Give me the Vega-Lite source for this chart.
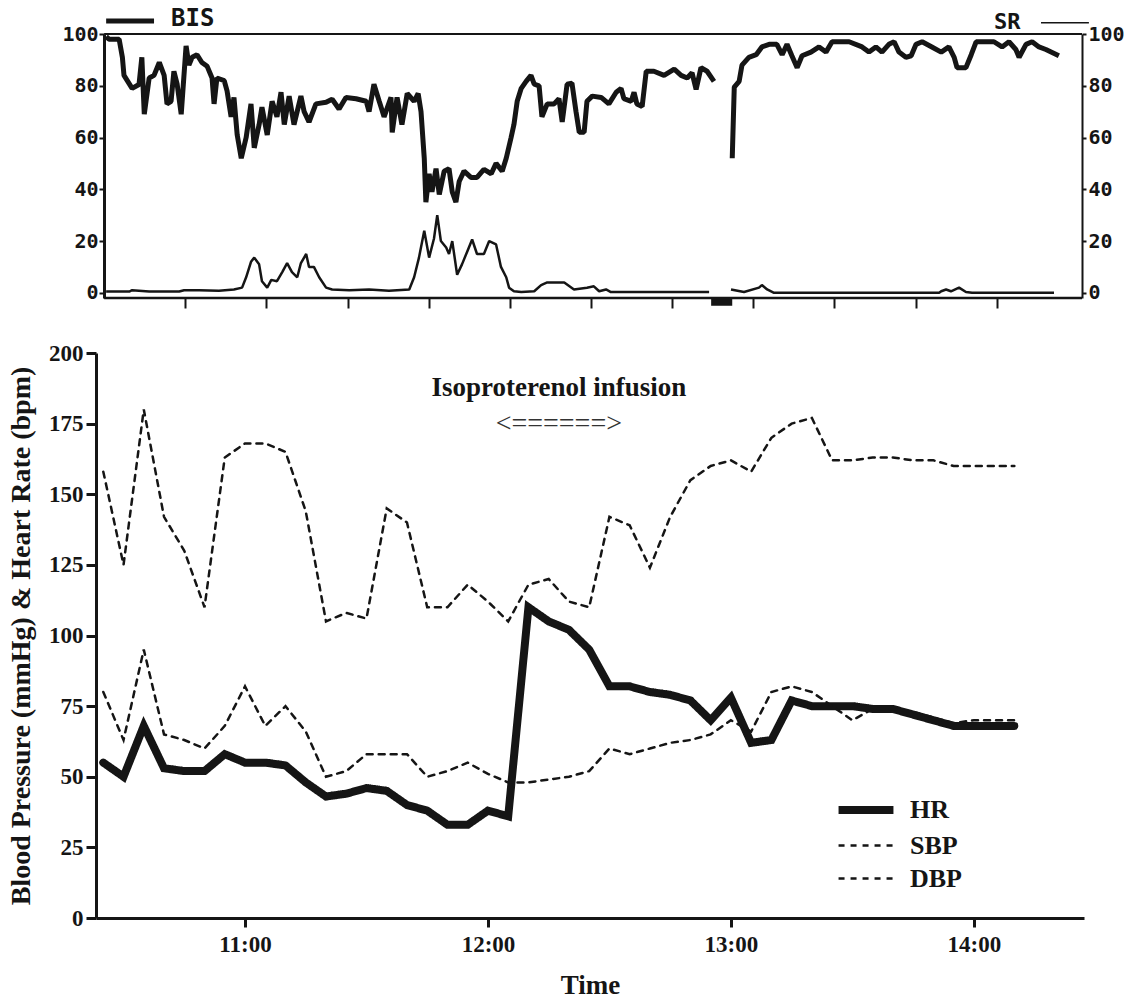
{
  "$schema": "https://vega.github.io/schema/vega-lite/v6.json",
  "background": "white",
  "padding": {"left": 7, "top": 6, "right": 0, "bottom": 0},
  "autosize": {"type": "pad"},
  "spacing": 33,
  "config": {"view": {"stroke": null}, "axis": {"grid": false}},
  "datasets": {
    "bis": [
      {"m":0.5,"v":99,"seg":1},{"m":1.2,"v":98,"seg":1},{"m":3.7,"v":98,"seg":1},{"m":4.5,"v":91,"seg":1},{"m":4.9,"v":84,"seg":1},{"m":6.9,"v":79,"seg":1},{"m":8.6,"v":80.5,"seg":1},{"m":9.3,"v":91,"seg":1},{"m":9.9,"v":69,"seg":1},{"m":11.1,"v":83,"seg":1},{"m":12.3,"v":84,"seg":1},{"m":13.6,"v":89,"seg":1},{"m":14.8,"v":84,"seg":1},{"m":15.5,"v":73,"seg":1},{"m":16.5,"v":74,"seg":1},{"m":17.2,"v":85.6,"seg":1},{"m":18.0,"v":80.6,"seg":1},{"m":19.0,"v":69,"seg":1},{"m":20.2,"v":95.4,"seg":1},{"m":20.9,"v":88,"seg":1},{"m":21.7,"v":91,"seg":1},{"m":22.9,"v":92,"seg":1},{"m":24.1,"v":89,"seg":1},{"m":25.4,"v":87.5,"seg":1},{"m":26.6,"v":83,"seg":1},{"m":27.1,"v":73,"seg":1},{"m":27.8,"v":83,"seg":1},{"m":29.6,"v":82,"seg":1},{"m":30.3,"v":78,"seg":1},{"m":31.3,"v":68,"seg":1},{"m":32.0,"v":75.5,"seg":1},{"m":32.8,"v":61,"seg":1},{"m":33.8,"v":52,"seg":1},{"m":35.0,"v":60,"seg":1},{"m":36.2,"v":73,"seg":1},{"m":37.0,"v":56,"seg":1},{"m":38.2,"v":65,"seg":1},{"m":38.9,"v":71.7,"seg":1},{"m":40.2,"v":61,"seg":1},{"m":41.4,"v":74,"seg":1},{"m":42.6,"v":68,"seg":1},{"m":43.6,"v":77.5,"seg":1},{"m":44.4,"v":65,"seg":1},{"m":45.6,"v":76,"seg":1},{"m":46.8,"v":65,"seg":1},{"m":48.5,"v":76,"seg":1},{"m":49.3,"v":70,"seg":1},{"m":50.5,"v":66,"seg":1},{"m":52.2,"v":73,"seg":1},{"m":54.7,"v":73.6,"seg":1},{"m":56.2,"v":74.8,"seg":1},{"m":57.9,"v":71,"seg":1},{"m":59.6,"v":75.5,"seg":1},{"m":62.1,"v":75,"seg":1},{"m":64.6,"v":74,"seg":1},{"m":65.3,"v":70,"seg":1},{"m":66.5,"v":80.6,"seg":1},{"m":67.8,"v":74,"seg":1},{"m":69.0,"v":68,"seg":1},{"m":70.7,"v":75.5,"seg":1},{"m":71.0,"v":62,"seg":1},{"m":72.2,"v":75.5,"seg":1},{"m":73.4,"v":65,"seg":1},{"m":74.7,"v":77,"seg":1},{"m":76.4,"v":74,"seg":1},{"m":77.4,"v":77,"seg":1},{"m":78.1,"v":70,"seg":1},{"m":78.9,"v":52,"seg":1},{"m":79.3,"v":35,"seg":1},{"m":80.1,"v":46,"seg":1},{"m":80.8,"v":39,"seg":1},{"m":81.8,"v":48,"seg":1},{"m":82.6,"v":38,"seg":1},{"m":83.8,"v":47,"seg":1},{"m":85.0,"v":48,"seg":1},{"m":85.8,"v":39,"seg":1},{"m":86.7,"v":35,"seg":1},{"m":87.5,"v":43,"seg":1},{"m":88.7,"v":47,"seg":1},{"m":90.4,"v":44.6,"seg":1},{"m":91.9,"v":44.6,"seg":1},{"m":93.6,"v":47.7,"seg":1},{"m":95.4,"v":46,"seg":1},{"m":96.6,"v":50,"seg":1},{"m":98.1,"v":47,"seg":1},{"m":99.1,"v":52,"seg":1},{"m":100.3,"v":60,"seg":1},{"m":101.0,"v":65,"seg":1},{"m":101.8,"v":74,"seg":1},{"m":102.8,"v":79,"seg":1},{"m":104.0,"v":81.7,"seg":1},{"m":105.2,"v":84,"seg":1},{"m":106.0,"v":80.6,"seg":1},{"m":107.2,"v":80,"seg":1},{"m":107.9,"v":68,"seg":1},{"m":109.2,"v":73,"seg":1},{"m":110.9,"v":73,"seg":1},{"m":112.1,"v":75,"seg":1},{"m":112.9,"v":66,"seg":1},{"m":114.1,"v":80.6,"seg":1},{"m":115.3,"v":81,"seg":1},{"m":116.3,"v":70,"seg":1},{"m":117.1,"v":62,"seg":1},{"m":118.3,"v":62,"seg":1},{"m":119.0,"v":74,"seg":1},{"m":120.3,"v":76,"seg":1},{"m":122.5,"v":75.5,"seg":1},{"m":124.4,"v":73,"seg":1},{"m":126.2,"v":77.5,"seg":1},{"m":127.4,"v":79,"seg":1},{"m":128.1,"v":75,"seg":1},{"m":129.9,"v":74,"seg":1},{"m":130.6,"v":77.5,"seg":1},{"m":131.3,"v":73,"seg":1},{"m":132.6,"v":72,"seg":1},{"m":133.6,"v":85.6,"seg":1},{"m":135.5,"v":85.6,"seg":1},{"m":138.0,"v":84,"seg":1},{"m":140.5,"v":86.4,"seg":1},{"m":142.2,"v":84,"seg":1},{"m":143.7,"v":83,"seg":1},{"m":144.9,"v":85,"seg":1},{"m":145.9,"v":78.6,"seg":1},{"m":147.1,"v":87,"seg":1},{"m":148.6,"v":85.6,"seg":1},{"m":150.3,"v":81.7,"seg":1},
      {"m":154.8,"v":52,"seg":2},{"m":155.3,"v":79.5,"seg":2},{"m":156.5,"v":81.7,"seg":2},{"m":157.2,"v":88,"seg":2},{"m":158.9,"v":91,"seg":2},{"m":160.7,"v":92,"seg":2},{"m":162.1,"v":95,"seg":2},{"m":163.9,"v":96,"seg":2},{"m":165.8,"v":96,"seg":2},{"m":167.1,"v":92,"seg":2},{"m":168.3,"v":96,"seg":2},{"m":169.5,"v":91.6,"seg":2},{"m":170.8,"v":87,"seg":2},{"m":172.0,"v":91.6,"seg":2},{"m":174.2,"v":93,"seg":2},{"m":176.2,"v":95,"seg":2},{"m":177.9,"v":93,"seg":2},{"m":179.4,"v":97,"seg":2},{"m":183.6,"v":97,"seg":2},{"m":186.8,"v":95,"seg":2},{"m":188.5,"v":93,"seg":2},{"m":190.2,"v":95,"seg":2},{"m":191.7,"v":93,"seg":2},{"m":193.4,"v":96,"seg":2},{"m":194.7,"v":97,"seg":2},{"m":195.9,"v":93,"seg":2},{"m":197.6,"v":91,"seg":2},{"m":198.9,"v":91.6,"seg":2},{"m":200.1,"v":96,"seg":2},{"m":201.6,"v":97,"seg":2},{"m":204.0,"v":95,"seg":2},{"m":206.3,"v":93,"seg":2},{"m":208.2,"v":95,"seg":2},{"m":209.5,"v":91,"seg":2},{"m":210.2,"v":87,"seg":2},{"m":212.4,"v":87,"seg":2},{"m":213.7,"v":92,"seg":2},{"m":214.9,"v":97,"seg":2},{"m":217.3,"v":97,"seg":2},{"m":219.3,"v":97,"seg":2},{"m":221.3,"v":95,"seg":2},{"m":223.0,"v":97,"seg":2},{"m":224.7,"v":94,"seg":2},{"m":225.5,"v":91,"seg":2},{"m":227.2,"v":96,"seg":2},{"m":228.7,"v":97,"seg":2},{"m":230.4,"v":95,"seg":2},{"m":232.1,"v":94,"seg":2},{"m":235.3,"v":91.6,"seg":2}
    ],
    "sr": [
      {"m":0.5,"v":0.5,"seg":1},{"m":6.2,"v":0.5,"seg":1},{"m":6.9,"v":1,"seg":1},{"m":11.1,"v":0.5,"seg":1},{"m":18.5,"v":0.5,"seg":1},{"m":19.7,"v":1,"seg":1},{"m":23.4,"v":1,"seg":1},{"m":28.3,"v":0.8,"seg":1},{"m":32.0,"v":1.3,"seg":1},{"m":34.0,"v":2,"seg":1},{"m":35.0,"v":6,"seg":1},{"m":36.2,"v":12,"seg":1},{"m":37.0,"v":13.6,"seg":1},{"m":38.2,"v":11,"seg":1},{"m":38.9,"v":4.5,"seg":1},{"m":40.2,"v":2,"seg":1},{"m":41.2,"v":5,"seg":1},{"m":42.6,"v":4.5,"seg":1},{"m":43.9,"v":8,"seg":1},{"m":45.1,"v":11.5,"seg":1},{"m":46.3,"v":8,"seg":1},{"m":47.6,"v":6,"seg":1},{"m":48.5,"v":11.5,"seg":1},{"m":49.8,"v":15,"seg":1},{"m":50.5,"v":10,"seg":1},{"m":51.7,"v":10,"seg":1},{"m":53.0,"v":6,"seg":1},{"m":54.7,"v":2,"seg":1},{"m":56.2,"v":1.3,"seg":1},{"m":60.4,"v":1,"seg":1},{"m":65.3,"v":1.3,"seg":1},{"m":70.2,"v":0.8,"seg":1},{"m":75.2,"v":1.3,"seg":1},{"m":76.4,"v":6,"seg":1},{"m":77.6,"v":13.6,"seg":1},{"m":78.9,"v":24,"seg":1},{"m":80.1,"v":13.6,"seg":1},{"m":81.3,"v":21,"seg":1},{"m":82.1,"v":30,"seg":1},{"m":83.0,"v":20,"seg":1},{"m":84.3,"v":17.5,"seg":1},{"m":85.0,"v":15,"seg":1},{"m":85.8,"v":20,"seg":1},{"m":87.0,"v":7,"seg":1},{"m":88.2,"v":11,"seg":1},{"m":89.5,"v":16,"seg":1},{"m":90.7,"v":20.6,"seg":1},{"m":91.9,"v":15,"seg":1},{"m":93.6,"v":15,"seg":1},{"m":94.9,"v":20,"seg":1},{"m":96.6,"v":18.7,"seg":1},{"m":97.8,"v":10,"seg":1},{"m":99.1,"v":6,"seg":1},{"m":99.8,"v":2,"seg":1},{"m":101.0,"v":0.6,"seg":1},{"m":102.8,"v":0.3,"seg":1},{"m":106.0,"v":0.6,"seg":1},{"m":107.7,"v":3,"seg":1},{"m":109.2,"v":4,"seg":1},{"m":113.4,"v":4,"seg":1},{"m":115.8,"v":1.3,"seg":1},{"m":119.0,"v":2,"seg":1},{"m":120.7,"v":2.5,"seg":1},{"m":122.0,"v":0.6,"seg":1},{"m":123.7,"v":1.3,"seg":1},{"m":124.9,"v":0.3,"seg":1},{"m":136.8,"v":0.3,"seg":1},{"m":149.1,"v":0.3,"seg":1},
      {"m":154.5,"v":1.3,"seg":2},{"m":157.7,"v":0.3,"seg":2},{"m":161.4,"v":2,"seg":2},{"m":162.1,"v":3,"seg":2},{"m":163.4,"v":1.3,"seg":2},{"m":165.1,"v":0,"seg":2},{"m":183.6,"v":0,"seg":2},{"m":205.8,"v":0,"seg":2},{"m":206.3,"v":0.6,"seg":2},{"m":207.5,"v":1.3,"seg":2},{"m":208.7,"v":0.6,"seg":2},{"m":210.7,"v":2,"seg":2},{"m":212.4,"v":0.3,"seg":2},{"m":213.9,"v":0,"seg":2},{"m":234.1,"v":0,"seg":2}
    ]
  },
  "vconcat": [
    {
      "width": 986,
      "height": 264,
      "layer": [
        {
          "data": {"name": "bis"},
          "mark": {"type": "line", "color": "#151515", "strokeWidth": 5, "strokeJoin": "bevel"},
          "encoding": {
            "x": {"field": "m", "type": "quantitative",
                  "scale": {"domain": [-2, 241], "nice": false, "zero": false},
                  "axis": {"values": [20,40,60,80,100,120,140,160,180,200,220], "labels": false, "domain": false, "tickSize": 10, "tickWidth": 2, "tickColor": "#151515", "title": null, "grid": false}},
            "y": {"field": "v", "type": "quantitative",
                  "scale": {"domain": [-2, 100], "nice": false, "zero": false},
                  "axis": {"orient": "left", "offset": -8, "values": [0,20,40,60,80,100], "labelFont": "DejaVu Sans Mono", "labelFontWeight": "bold", "labelFontSize": 20, "labelColor": "#151515", "labelPadding": 1, "tickSize": 5, "tickWidth": 2, "tickColor": "#151515", "domainColor": "#151515", "domainWidth": 3, "title": null, "grid": false}},
            "detail": {"field": "seg", "type": "nominal"}
          }
        },
        {
          "data": {"name": "sr"},
          "mark": {"type": "line", "color": "#151515", "strokeWidth": 2.5, "strokeJoin": "bevel"},
          "encoding": {
            "x": {"field": "m", "type": "quantitative"},
            "y": {"field": "v", "type": "quantitative",
                  "axis": {"orient": "right", "values": [0,20,40,60,80,100], "labelFont": "DejaVu Sans Mono", "labelFontWeight": "bold", "labelFontSize": 20, "labelColor": "#151515", "labelPadding": 2, "tickSize": 4, "tickWidth": 2, "tickColor": "#151515", "domainColor": "#151515", "domainWidth": 2, "title": null, "grid": false}},
            "detail": {"field": "seg", "type": "nominal"}
          }
        },
        {
          "data": {"values": [{}]},
          "mark": {"type": "rule", "color": "#151515", "strokeWidth": 2},
          "encoding": {"x": {"datum": 0}, "x2": {"datum": 241}, "y": {"datum": 100, "axis": null}}
        },
        {
          "data": {"values": [{}]},
          "mark": {"type": "rule", "color": "#151515", "strokeWidth": 2.5},
          "encoding": {"x": {"datum": 0}, "x2": {"datum": 241}, "y": {"datum": -2, "axis": null}}
        },
        {
          "data": {"values": [{}]},
          "mark": {"type": "rect", "color": "#151515"},
          "encoding": {"x": {"datum": 149.6}, "x2": {"datum": 154.8}, "y": {"datum": -2, "axis": null}, "y2": {"datum": -5}}
        },
        {
          "data": {"values": [{}]},
          "mark": {"type": "rule", "color": "#151515", "strokeWidth": 5},
          "encoding": {"x": {"datum": 0.5}, "x2": {"datum": 12.3}, "y": {"datum": 105, "axis": null}}
        },
        {
          "data": {"values": [{}]},
          "mark": {"type": "text", "align": "left", "baseline": "middle", "font": "DejaVu Sans Mono", "fontWeight": "bold", "fontSize": 24, "color": "#151515"},
          "encoding": {"x": {"datum": 16.5}, "y": {"datum": 105.8, "axis": null}, "text": {"value": "BIS"}}
        },
        {
          "data": {"values": [{}]},
          "mark": {"type": "text", "align": "left", "baseline": "middle", "font": "DejaVu Sans Mono", "fontWeight": "bold", "fontSize": 22, "color": "#151515"},
          "encoding": {"x": {"datum": 219.3}, "y": {"datum": 104.6, "axis": null}, "text": {"value": "SR"}}
        },
        {
          "data": {"values": [{}]},
          "mark": {"type": "rule", "color": "#151515", "strokeWidth": 1.5},
          "encoding": {"x": {"datum": 230.9}, "x2": {"datum": 242.7}, "y": {"datum": 104.3, "axis": null}}
        }
      ],
      "resolve": {"axis": {"y": "independent"}}
    },
    {
      "width": 988,
      "height": 565,
      "layer": [
        {
          "data": {
            "values": [
              {"time":"10:25","HR":55,"SBP":158,"DBP":80},
              {"time":"10:30","HR":50,"SBP":125,"DBP":63},
              {"time":"10:35","HR":68,"SBP":180,"DBP":95},
              {"time":"10:40","HR":53,"SBP":142,"DBP":65},
              {"time":"10:45","HR":52,"SBP":130,"DBP":63},
              {"time":"10:50","HR":52,"SBP":110,"DBP":60},
              {"time":"10:55","HR":58,"SBP":163,"DBP":68},
              {"time":"11:00","HR":55,"SBP":168,"DBP":82},
              {"time":"11:05","HR":55,"SBP":168,"DBP":68},
              {"time":"11:10","HR":54,"SBP":165,"DBP":75},
              {"time":"11:15","HR":48,"SBP":144,"DBP":66},
              {"time":"11:20","HR":43,"SBP":105,"DBP":50},
              {"time":"11:25","HR":44,"SBP":108,"DBP":52},
              {"time":"11:30","HR":46,"SBP":106,"DBP":58},
              {"time":"11:35","HR":45,"SBP":145,"DBP":58},
              {"time":"11:40","HR":40,"SBP":140,"DBP":58},
              {"time":"11:45","HR":38,"SBP":110,"DBP":50},
              {"time":"11:50","HR":33,"SBP":110,"DBP":52},
              {"time":"11:55","HR":33,"SBP":118,"DBP":55},
              {"time":"12:00","HR":38,"SBP":112,"DBP":51},
              {"time":"12:05","HR":36,"SBP":105,"DBP":48},
              {"time":"12:10","HR":110,"SBP":118,"DBP":48},
              {"time":"12:15","HR":105,"SBP":120,"DBP":49},
              {"time":"12:20","HR":102,"SBP":112,"DBP":50},
              {"time":"12:25","HR":95,"SBP":110,"DBP":52},
              {"time":"12:30","HR":82,"SBP":142,"DBP":60},
              {"time":"12:35","HR":82,"SBP":139,"DBP":58},
              {"time":"12:40","HR":80,"SBP":124,"DBP":60},
              {"time":"12:45","HR":79,"SBP":142,"DBP":62},
              {"time":"12:50","HR":77,"SBP":155,"DBP":63},
              {"time":"12:55","HR":70,"SBP":160,"DBP":65},
              {"time":"13:00","HR":78,"SBP":162,"DBP":70},
              {"time":"13:05","HR":62,"SBP":158,"DBP":66},
              {"time":"13:10","HR":63,"SBP":170,"DBP":80},
              {"time":"13:15","HR":77,"SBP":175,"DBP":82},
              {"time":"13:20","HR":75,"SBP":177,"DBP":80},
              {"time":"13:25","HR":75,"SBP":162,"DBP":75},
              {"time":"13:30","HR":75,"SBP":162,"DBP":70},
              {"time":"13:35","HR":74,"SBP":163,"DBP":74},
              {"time":"13:40","HR":74,"SBP":163,"DBP":74},
              {"time":"13:45","HR":72,"SBP":162,"DBP":73},
              {"time":"13:50","HR":70,"SBP":162,"DBP":71},
              {"time":"13:55","HR":68,"SBP":160,"DBP":69},
              {"time":"14:00","HR":68,"SBP":160,"DBP":70},
              {"time":"14:05","HR":68,"SBP":160,"DBP":70},
              {"time":"14:10","HR":68,"SBP":160,"DBP":70}
            ],
            "format": {"parse": {"time": "date:'%H:%M'"}}
          },
          "transform": [{"fold": ["HR", "SBP", "DBP"], "as": ["series", "value"]}],
          "mark": {"type": "line", "color": "#151515", "strokeCap": "round", "strokeJoin": "miter"},
          "encoding": {
            "x": {"field": "time", "type": "temporal",
                  "scale": {"domain": [{"year":1900,"month":1,"date":1,"hours":10,"minutes":23,"seconds":12}, {"year":1900,"month":1,"date":1,"hours":14,"minutes":27,"seconds":12}]},
                  "axis": {"values": [{"year":1900,"month":1,"date":1,"hours":11,"minutes":0}, {"year":1900,"month":1,"date":1,"hours":12,"minutes":0}, {"year":1900,"month":1,"date":1,"hours":13,"minutes":0}, {"year":1900,"month":1,"date":1,"hours":14,"minutes":0}],
                           "format": "%H:%M", "labelFont": "Liberation Serif", "labelFontWeight": "bold", "labelFontSize": 23, "labelColor": "#151515", "labelPadding": 6,
                           "tickSize": 9, "tickWidth": 3, "tickColor": "#151515", "domainColor": "#151515", "domainWidth": 3,
                           "title": "Time", "titleFont": "Liberation Serif", "titleFontWeight": "bold", "titleFontSize": 27, "titleColor": "#151515", "titlePadding": 16, "grid": false}},
            "y": {"field": "value", "type": "quantitative",
                  "scale": {"domain": [0, 200], "nice": false},
                  "axis": {"values": [0,25,50,75,100,125,150,175,200], "labelFont": "Liberation Serif", "labelFontWeight": "bold", "labelFontSize": 23, "labelColor": "#151515", "labelPadding": 3,
                           "tickSize": 10, "tickWidth": 3, "tickColor": "#151515", "domainColor": "#151515", "domainWidth": 3,
                           "title": "Blood Pressure (mmHg) & Heart Rate (bpm)", "titleFont": "Liberation Serif", "titleFontWeight": "bold", "titleFontSize": 28, "titleColor": "#151515", "titlePadding": 13, "grid": false}},
            "strokeDash": {"field": "series", "type": "nominal",
                           "scale": {"domain": ["HR", "SBP", "DBP"], "range": [[1, 0], [6, 6], [6, 6]]},
                           "legend": {"orient": "none", "legendX": 751, "legendY": 757, "title": null, "symbolType": "M-1.83,0H1.83", "symbolSize": 900, "symbolStrokeColor": "#151515", "symbolFillColor": "transparent", "labelFont": "Liberation Serif", "labelFontWeight": "bold", "labelFontSize": 26, "labelColor": "#151515", "labelOffset": 25, "rowPadding": 3, "padding": 0}},
            "strokeWidth": {"field": "series", "type": "nominal",
                            "scale": {"type": "ordinal", "domain": ["HR", "SBP", "DBP"], "range": [8, 2.5, 2.5]},
                            "legend": {"orient": "none", "legendX": 751, "legendY": 757, "title": null, "symbolType": "M-1.83,0H1.83", "symbolSize": 900, "symbolStrokeColor": "#151515", "symbolFillColor": "transparent", "labelFont": "Liberation Serif", "labelFontWeight": "bold", "labelFontSize": 26, "labelColor": "#151515", "labelOffset": 25, "rowPadding": 3, "padding": 0}}
          }
        },
        {
          "data": {"values": [{}]},
          "mark": {"type": "text", "align": "center", "baseline": "middle", "font": "Liberation Serif", "fontWeight": "bold", "fontSize": 27, "color": "#151515"},
          "encoding": {"x": {"datum": {"year":1900,"month":1,"date":1,"hours":12,"minutes":17,"seconds":30}, "type": "temporal"}, "y": {"datum": 187.6, "type": "quantitative"}, "text": {"value": "Isoproterenol infusion"}}
        },
        {
          "data": {"values": [{}]},
          "mark": {"type": "text", "align": "center", "baseline": "middle", "font": "Liberation Serif", "fontWeight": "normal", "fontSize": 28, "color": "#333333"},
          "encoding": {"x": {"datum": {"year":1900,"month":1,"date":1,"hours":12,"minutes":17,"seconds":30}, "type": "temporal"}, "y": {"datum": 175, "type": "quantitative"}, "text": {"value": "<======>"}}
        }
      ]
    }
  ]
}
